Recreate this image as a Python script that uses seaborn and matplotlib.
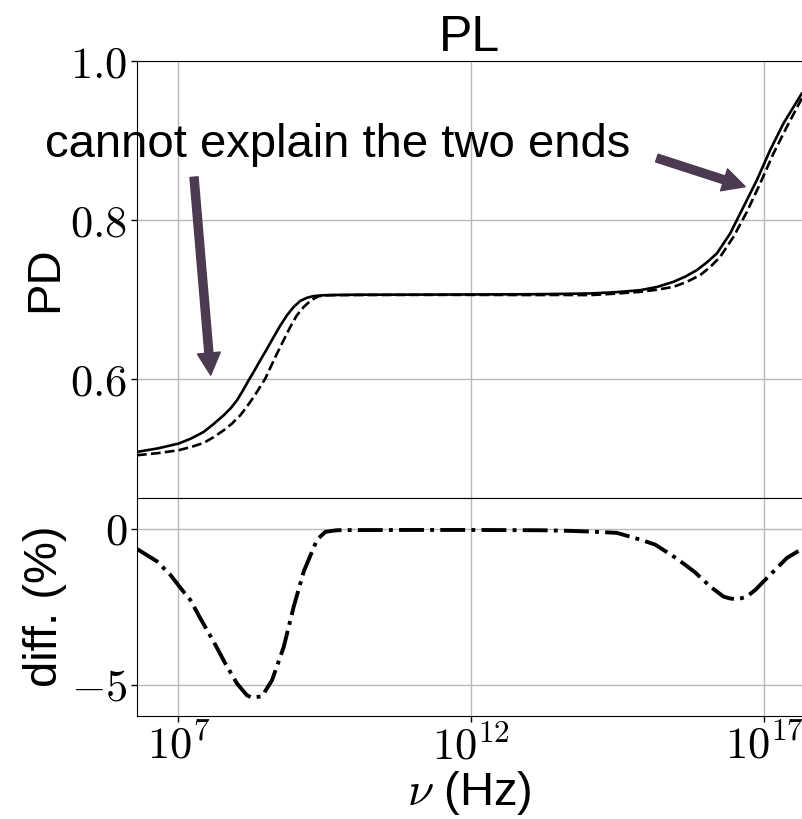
import numpy as np
import matplotlib
matplotlib.use("Agg")
import matplotlib.pyplot as plt
import seaborn as sns
from matplotlib.ticker import FixedLocator, FuncFormatter, NullLocator

# ===============================
# Data
# ===============================

# log10(nu / Hz) and PD for the two models
logx_solid = [6.295, 6.65, 7.007, 7.22, 7.433, 7.6, 7.775, 7.9, 8.002, 8.1,
              8.201, 8.3, 8.399, 8.5, 8.628, 8.74, 8.855, 8.97, 9.082, 9.2,
              9.311, 9.45, 9.6, 10.05, 11.0, 12.0, 13.0, 13.5, 14.026, 14.45,
              14.879, 15.17, 15.447, 15.65, 15.846, 16.02, 16.188, 16.415, 16.642, 16.870,
              17.097, 17.324, 17.638]
pd_solid = [0.5086, 0.5130, 0.5191, 0.5255, 0.5337, 0.5435, 0.5547, 0.5640, 0.5736, 0.5855,
            0.5987, 0.6110, 0.6239, 0.6365, 0.6532, 0.6675, 0.6805, 0.6910, 0.6985, 0.7025,
            0.7045, 0.7054, 0.7058, 0.7062, 0.7063, 0.7065, 0.7068, 0.7072, 0.7078, 0.7093,
            0.7119, 0.7160, 0.7224, 0.7290, 0.7371, 0.7470, 0.7581, 0.7833, 0.8167, 0.8503,
            0.8881, 0.9216, 0.9594]

logx_dashed = [6.295, 6.65, 7.007, 7.22, 7.433, 7.6, 7.775, 7.92, 8.058, 8.17,
               8.287, 8.38, 8.485, 8.58, 8.684, 8.8, 8.911, 9.02, 9.140, 9.27,
               9.396, 9.55, 9.708, 11.0, 12.0, 13.0, 13.5, 14.026, 14.45, 14.879,
               15.17, 15.447, 15.68, 15.903, 16.08, 16.244, 16.471, 16.700, 16.927, 17.154,
               17.382, 17.638]
pd_dashed = [0.5044, 0.5070, 0.5107, 0.5148, 0.5199, 0.5270, 0.5358, 0.5445, 0.5547, 0.5655,
             0.5777, 0.5885, 0.6009, 0.6160, 0.6323, 0.6495, 0.6658, 0.6800, 0.6909, 0.6995,
             0.7044, 0.7055, 0.7057, 0.7060, 0.7060, 0.7058, 0.7059, 0.7057, 0.7075, 0.7098,
             0.7125, 0.7161, 0.7225, 0.7308, 0.7415, 0.7538, 0.7790, 0.8104, 0.8462, 0.8839,
             0.9174, 0.9531]

# relative difference (%)
logx_diff = [6.295, 6.637, 6.863, 7.063, 7.205, 7.375, 7.604, 7.802, 8.002, 8.172,
             8.258, 8.428, 8.599, 8.799, 8.969, 9.140, 9.367, 9.509, 9.6, 9.708,
             9.85, 9.993, 11.0, 12.0, 13.172, 13.6, 14.026, 14.481, 14.879, 15.135,
             15.447, 15.63, 15.818, 16.074, 16.300, 16.4, 16.500, 16.6, 16.700, 16.85,
             16.983, 17.154, 17.382, 17.638]
diff_pct = [-0.645, -1.045, -1.474, -1.958, -2.281, -2.871, -3.626, -4.323, -4.968, -5.345,
            -5.419, -5.377, -4.861, -3.787, -2.497, -1.368, -0.345, -0.097, -0.070, -0.045,
            -0.040, -0.040, -0.035, -0.035, -0.045, -0.060, -0.087, -0.129, -0.345, -0.506,
            -0.884, -1.130, -1.400, -1.852, -2.174, -2.230, -2.258, -2.230, -2.174, -1.950,
            -1.690, -1.368, -0.935, -0.645]

xticks_exp = [7, 12, 17]
pd_ticks = [0.6, 0.8, 1.0]
diff_ticks = [-5, 0]

# arrow tips / tails (log10 nu, PD)
left_arrow = dict(tip=(7.553, 0.605), tail=(7.268, 0.854))
right_arrow = dict(tip=(16.671, 0.842), tail=(15.164, 0.878))

# ===============================
# Style
# ===============================

sns.set_style("ticks", {"axes.grid": True, "grid.color": "#b8b8b8",
                        "axes.edgecolor": "black", "text.color": "black",
                        "axes.labelcolor": "black", "xtick.color": "black",
                        "ytick.color": "black"})
plt.rcParams["font.family"] = ["Liberation Sans", "DejaVu Sans"]
plt.rcParams["mathtext.fontset"] = "cm"
plt.rcParams["grid.linewidth"] = 1.0

arrow_color = "#4b3a50"
tick_fs = 32
label_fs = 34

fig = plt.figure(figsize=(8.02, 8.19), dpi=100)
ax1 = fig.add_axes([0.1708, 0.3923, 0.8292, 0.5332])
ax2 = fig.add_axes([0.1708, 0.1261, 0.8292, 0.2662], sharex=ax1)

nu_solid = 10.0 ** np.array(logx_solid)
nu_dashed = 10.0 ** np.array(logx_dashed)
nu_diff = 10.0 ** np.array(logx_diff)

sns.lineplot(x=nu_solid, y=pd_solid, ax=ax1, color="black", lw=1.9)
sns.lineplot(x=nu_dashed, y=pd_dashed, ax=ax1, color="black", lw=1.9, linestyle="--")
sns.lineplot(x=nu_diff, y=diff_pct, ax=ax2, color="black", lw=2.8, linestyle="-.")

for ax in (ax1, ax2):
    ax.set_xscale("log")
    ax.set_xlim(10 ** 6.295, 10 ** 17.64)
    ax.xaxis.set_major_locator(FixedLocator([10.0 ** e for e in xticks_exp]))
    ax.xaxis.set_minor_locator(NullLocator())
    ax.spines["right"].set_visible(False)
    ax.tick_params(axis="both", direction="out", length=4, width=1, pad=3,
                   labelsize=tick_fs, colors="black")
    ax.grid(True, which="major", color="#b8b8b8", lw=1)

ax1.set_ylim(0.451, 1.0)
ax1.yaxis.set_major_locator(FixedLocator(pd_ticks))
ax1.yaxis.set_major_formatter(FuncFormatter(lambda v, p: r"$%.1f$" % v))
ax1.tick_params(axis="x", labelbottom=False)
ax1.set_ylabel("PD", fontsize=label_fs, color="black")
ax1.set_title("PL", fontsize=36, pad=6, color="black")

ax2.set_ylim(-6, 1.0)
ax2.yaxis.set_major_locator(FixedLocator(diff_ticks))
ax2.yaxis.set_major_formatter(FuncFormatter(lambda v, p: r"$%d$" % v))
ax2.xaxis.set_major_formatter(FuncFormatter(lambda v, p: r"$10^{%d}$" % round(np.log10(v))))
ax2.set_ylabel("diff. (%)", fontsize=label_fs, color="black")
ax2.set_xlabel(r"$\nu$ (Hz)", fontsize=label_fs, color="black")

ax1.yaxis.set_label_coords(-0.105, 0.5)
ax2.yaxis.set_label_coords(-0.105, 0.5)
ax2.xaxis.set_label_coords(0.5, -0.245)

# ===============================
# Annotation
# ===============================

fig.text(0.4214, 0.8083, "cannot explain the two ends", ha="center", va="baseline",
         fontsize=34, color="black")
for arr in (left_arrow, right_arrow):
    ax1.annotate("", xy=(10 ** arr["tip"][0], arr["tip"][1]),
                 xytext=(10 ** arr["tail"][0], arr["tail"][1]),
                 arrowprops=dict(facecolor=arrow_color, edgecolor=arrow_color,
                                 width=5.8, headwidth=16.5, headlength=16, shrink=0))

fig.savefig("out.png", dpi=100)
